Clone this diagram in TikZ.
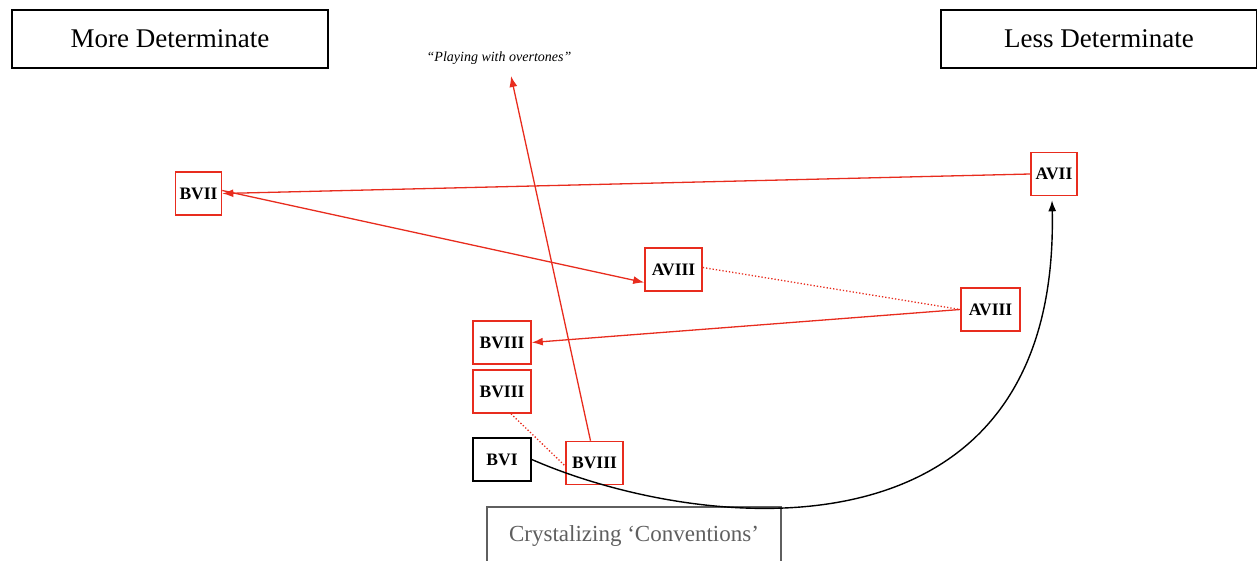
\documentclass[tikz,border=0pt]{standalone}
\usepackage{fontspec}
\setmainfont{Liberation Serif}
\usepackage{tikz}
\usetikzlibrary{arrows.meta}

\definecolor{chordred}{RGB}{232,44,30}
\definecolor{convgray}{RGB}{95,95,95}

\begin{document}
\begin{tikzpicture}[x=1pt,y=-1pt,>={Latex[length=11pt,width=8pt]},thick,
                    pole/.style={draw,line width=1.8pt,minimum width=316pt,minimum height=58pt,inner sep=0pt,font=\fontsize{27}{31}\selectfont},
                    chord/.style={draw=chordred,line width=1.6pt,minimum height=43pt,inner sep=0pt,font=\fontsize{17.5}{20}\selectfont\bfseries},
                    link/.style={chordred,line width=1.3pt}]

  \useasboundingbox (0,0) rectangle (1257,561);

  \node[pole] (more) at (170,39) {More Determinate};
  \node[pole] (less) at (1099,39) {Less Determinate};
  \node[font=\fontsize{14}{16}\selectfont\itshape] (play) at (499,58) {“Playing with overtones”};

  \node[chord,minimum width=46pt] (bvii) at (198.5,193.5) {BVII};
  \node[chord,minimum width=46pt] (avii) at (1054,174) {AVII};
  \node[chord,minimum width=57pt] (aviiia) at (673.5,269.5) {AVIII};
  \node[chord,minimum width=59pt] (aviiib) at (990.5,309.5) {AVIII};
  \node[chord,minimum width=58pt] (bviiia) at (502,342.5) {BVIII};
  \node[chord,minimum width=58pt] (bviiib) at (502,391.5) {BVIII};
  \node[chord,draw=black,minimum width=58pt] (bvi) at (502,459.5) {BVI};
  \node[chord,minimum width=57pt] (bviiic) at (594.5,463) {BVIII};
  \node[draw=convgray,text=convgray,line width=1.8pt,minimum width=294pt,minimum height=70pt,inner sep=0pt,
        text depth=0pt,font=\fontsize{23}{27}\selectfont] (conv) at (634,542) {\raisebox{16pt}{Crystalizing ‘Conventions’}};

  \coordinate (playtip) at (511,76);

  \path[link]
    (avii.west) edge [->] (bvii.east)
    ([yshift=3pt]bvii.east) edge [->] ([yshift=-13pt]aviiia.west)
    ([yshift=2pt]aviiia.east) edge [dotted,-] (aviiib.west)
    (aviiib.west) edge [->] (bviiia.east)
    ([xshift=-4pt]bviiic.north) edge [->] (playtip)
    ([xshift=9pt]bviiib.south) edge [dotted,-] ([yshift=-3pt]bviiic.west);

  \draw[->,line width=1.4pt] (bvi.east) .. controls (700,533) and (1060,572) .. ([xshift=-2pt,yshift=-4pt]avii.south);
\end{tikzpicture}
\end{document}
